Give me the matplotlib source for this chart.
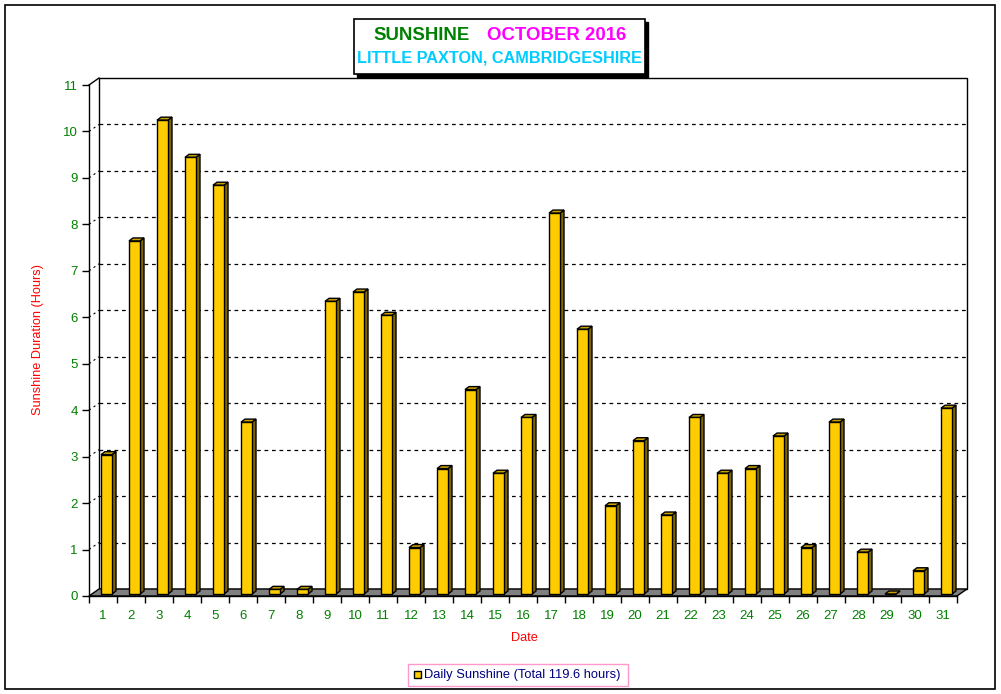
import matplotlib
matplotlib.use("Agg")
import matplotlib.pyplot as plt
from matplotlib.patches import Rectangle, Polygon
from matplotlib.lines import Line2D

plt.rcParams['font.family'] = ['Liberation Sans', 'DejaVu Sans']

# ---- data ----
days = list(range(1, 32))
sunshine = [3.0, 7.6, 10.2, 9.4, 8.8, 3.7, 0.1, 0.1, 6.3, 6.5,
            6.0, 1.0, 2.7, 4.4, 2.6, 3.8, 8.2, 5.7, 1.9, 3.3,
            1.7, 3.8, 2.6, 2.7, 3.4, 1.0, 3.7, 0.9, 0.0, 0.5,
            4.0]
yticks = list(range(0, 12))
title1a = "SUNSHINE"
title1b = "OCTOBER 2016"
title2 = "LITTLE PAXTON, CAMBRIDGESHIRE"
xlabel = "Date"
ylabel = "Sunshine Duration (Hours)"
legend_label = "Daily Sunshine (Total 119.6 hours)"

W, H = 1001, 694
fig = plt.figure(figsize=(W / 100, H / 100), dpi=100)

# figure frame
fig.patches.append(Rectangle((5 / W, 1 - 689 / H), 990 / W, 684 / H,
                             transform=fig.transFigure, fill=False,
                             edgecolor='black', linewidth=1.2))

# front plot area in pixels
x0, x1 = 89, 957
y0, y1 = 596, 85
ax = fig.add_axes([x0 / W, 1 - y0 / H, (x1 - x0) / W, (y0 - y1) / H])
ax.set_xlim(0.5, 31.5)
ax.set_ylim(0, 11)
ax.patch.set_visible(False)

pxu_x = (x1 - x0) / 31.0      # pixels per x unit
pxu_y = (y0 - y1) / 11.0      # pixels per y unit
def dx(p):
    return p / pxu_x
def dy(p):
    return p / pxu_y

# depth of 3D box
DX, DY = dx(10), dy(7)

# back wall
ax.add_patch(Rectangle((0.5 + DX, DY), 31, 11, facecolor='white',
                       edgecolor='black', linewidth=1.0, zorder=0.5, clip_on=False))
# gridlines on back wall
for k in yticks[1:-1]:
    ax.add_line(Line2D([0.5 + DX, 31.5 + DX], [k + DY, k + DY], color='black',
                       linestyle=(0, (3, 3)), linewidth=0.9, zorder=0.6, clip_on=False))
    ax.add_line(Line2D([0.5, 0.5 + DX], [k, k + DY], color='black',
                       linestyle=(0, (2, 3)), linewidth=0.8, zorder=0.6, clip_on=False))
# top-left diagonal
ax.add_line(Line2D([0.5, 0.5 + DX], [11, 11 + DY], color='black', linewidth=1.0,
                   zorder=0.6, clip_on=False))
# floor
ax.add_patch(Polygon([(0.5, 0), (31.5, 0), (31.5 + DX, DY), (0.5 + DX, DY)],
                     closed=True, facecolor='#808080', edgecolor='black',
                     linewidth=1.0, zorder=0.7, clip_on=False))

# bars (3D look)
bw = dx(11)
off_x = dx(3.5)
off_y = dy(2)
sd_x, sd_y = dx(4), dy(3)
front_c = '#FFCC00'
side_c = '#806600'
top_c = '#C8A000'
for d, v in zip(days, sunshine):
    left = d + off_x - bw / 2
    right = left + bw
    base = off_y
    top = v + off_y
    # side
    ax.add_patch(Polygon([(right, base), (right + sd_x, base + sd_y),
                          (right + sd_x, top + sd_y), (right, top)], closed=True,
                         facecolor=side_c, edgecolor='black', linewidth=1.0,
                         zorder=2, clip_on=False))
    # top
    ax.add_patch(Polygon([(left, top), (right, top), (right + sd_x, top + sd_y),
                          (left + sd_x, top + sd_y)], closed=True,
                         facecolor=top_c, edgecolor='black', linewidth=1.0,
                         zorder=2, clip_on=False))
    # front
    ax.add_patch(Rectangle((left, base), bw, v, facecolor=front_c,
                           edgecolor='black', linewidth=1.0, zorder=3, clip_on=False))

# spines
for s in ['top', 'right']:
    ax.spines[s].set_visible(False)
ax.spines['left'].set_linewidth(1.0)
ax.spines['bottom'].set_linewidth(1.0)
ax.spines['left'].set_zorder(4)
ax.spines['bottom'].set_zorder(4)

# ticks
tick_green = '#008000'
ax.set_yticks(yticks)
ax.set_yticklabels([str(t) for t in yticks])
ax.tick_params(axis='y', direction='out', length=5, width=1.0, pad=3,
               labelsize=9.5, labelcolor=tick_green)
ax.set_xticks(days)
ax.set_xticklabels([str(d) for d in days])
ax.set_xticks([d - 0.5 for d in days] + [31.5], minor=True)
ax.tick_params(axis='x', which='major', length=0, pad=10, labelsize=9.5,
               labelcolor=tick_green)
ax.tick_params(axis='x', which='minor', direction='out', length=5, width=1.0)

# axis labels
fig.text(524 / W, 1 - 638 / H, xlabel, color='red', fontsize=9.2,
         ha='center', va='center')
fig.text(38 / W, 1 - 340 / H, ylabel, color='red', fontsize=9.2,
         rotation=90, ha='center', va='center')

# title box with shadow
bx0, by0, bx1, by1 = 354, 19, 645, 74
fig.patches.append(Rectangle(((bx0 + 3) / W, 1 - (by1 + 3) / H), (bx1 - bx0) / W,
                             (by1 - by0) / H, transform=fig.transFigure,
                             facecolor='black', edgecolor='black', zorder=1))
fig.patches.append(Rectangle((bx0 / W, 1 - by1 / H), (bx1 - bx0) / W,
                             (by1 - by0) / H, transform=fig.transFigure,
                             facecolor='white', edgecolor='black', linewidth=1.2,
                             zorder=2))
fig.text(421.5 / W, 1 - 36 / H, title1a, color='#008000', fontsize=13.4,
         fontweight='bold', ha='center', va='center', zorder=3)
fig.text(556.5 / W, 1 - 36 / H, title1b, color='#FF00FF', fontsize=13.4,
         fontweight='bold', ha='center', va='center', zorder=3)
fig.text(499 / W, 1 - 58 / H, title2, color='#00CCFF', fontsize=11.7,
         fontweight='bold', ha='center', va='center', zorder=3)

# legend box
lx0, ly0, lx1, ly1 = 408, 664, 628, 686
fig.patches.append(Rectangle((lx0 / W, 1 - ly1 / H), (lx1 - lx0) / W,
                             (ly1 - ly0) / H, transform=fig.transFigure,
                             facecolor='white', edgecolor='#FF99CC', linewidth=1.0))
fig.patches.append(Rectangle((414 / W, 1 - 678 / H), 7 / W, 7 / H,
                             transform=fig.transFigure, facecolor=front_c,
                             edgecolor='black', linewidth=1.0))
fig.text(424 / W, 1 - 675 / H, legend_label, color='#000080', fontsize=9.3,
         ha='left', va='center')

fig.savefig('out.png', dpi=100)
